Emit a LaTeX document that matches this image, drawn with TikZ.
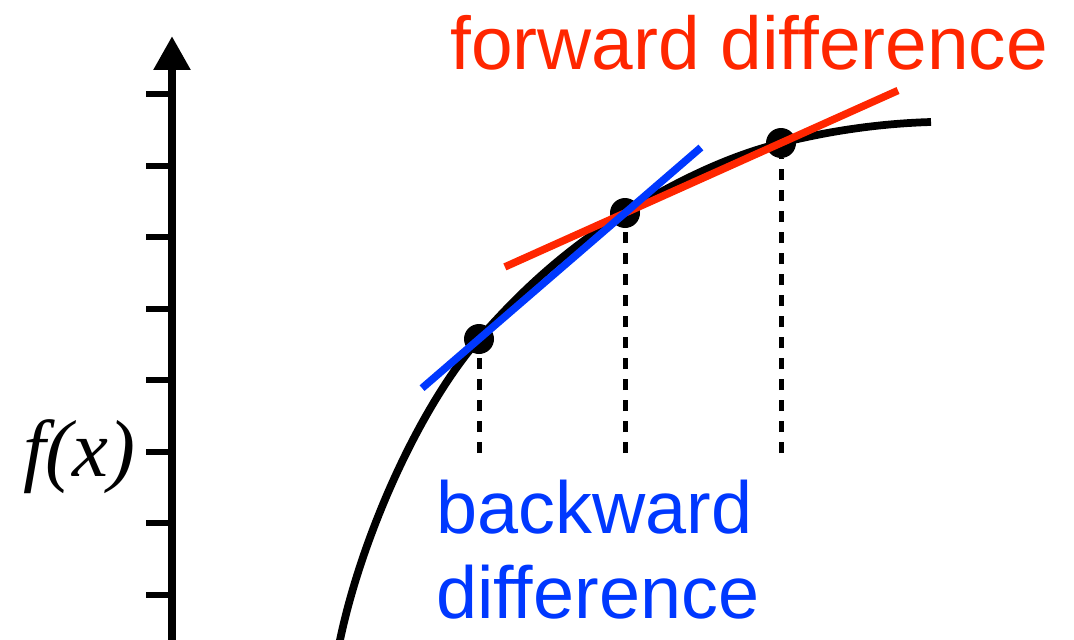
\documentclass[tikz,border=0pt]{standalone}
\usepackage{fontspec}
\setmainfont{Liberation Sans}
\newfontfamily\fxfont{Liberation Serif}
\usetikzlibrary{arrows.meta,calc}
\definecolor{fwdred}{RGB}{255,38,0}
\definecolor{bwdblue}{RGB}{0,56,255}
\pgfkeys{tikz/axisline/.style={line width=0.17cm,-{Triangle[width=0.7cm,length=0.68cm]}},
  tikz/tickline/.style={line width=0.12cm},
  tikz/curveline/.style={line width=0.155cm},
  tikz/secant/.style={line width=0.15cm},
  tikz/dropline/.style={line width=0.1cm,dash pattern=on 0.22cm off 0.2cm},
  tikz/pointdot/.style={circle,fill=black,inner sep=0pt,minimum size=0.6cm},
  tikz/bigtext/.style={inner sep=0pt,font=\fontsize{42}{48.4}\selectfont}}
\newcommand*\secantline[5][]{\draw [secant,#1] ($(#2)!#4!(#3)$) -- ($(#2)!#5!(#3)$);}

\begin{document}
\begin{tikzpicture}[x=0.02cm,y=-0.02cm]
\useasboundingbox (0,0) rectangle (1074,639);

% axis
\coordinate (ybot) at (172,660);
\coordinate (ytop) at (172,36);
\foreach \k in {0,...,7}
  \draw [tickline] (146,{94+71.5*\k}) -- (172,{94+71.5*\k});
\draw [axisline] (ybot) -- (ytop);

\draw [curveline] (338,650) .. controls (358,545) and (417,410) .. (479,339)
  .. controls (529,281.5) and (575,244) .. (625,213)
  .. controls (677,180.8) and (729,156) .. (781,143)
  .. controls (831,130.5) and (881,123.5) .. (931,122);

\node [pointdot] (d1) at (479,339) {};
\node [pointdot] (d2) at (625,213) {};
\node [pointdot] (d3) at (781,143) {};

\coordinate (base) at (0,453);
\foreach \d in {d1,d2,d3}
  \draw [dropline] (\d.center |- base) -- (\d.south);

\secantline[fwdred]{d2}{d3}{-0.77}{1.75}
\secantline[bwdblue]{d1}{d2}{-0.39}{1.52}

\node [bigtext,text=fwdred,anchor=base west,font=\fontsize{42.6}{50}\selectfont] (fwdlabel) at (450,69) {forward difference};
\node [bigtext,text=bwdblue,align=left,anchor=north west] (bwdlabel) at (436,480) {backward\\difference};
\node [inner sep=0pt,font=\fxfont\itshape\fontsize{46}{52}\selectfont,anchor=base east] (fxlabel) at (136,476) {f(x)};
\end{tikzpicture}
\end{document}
